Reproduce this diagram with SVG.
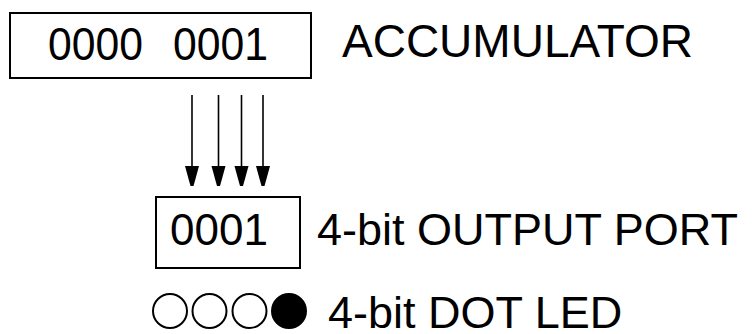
<svg xmlns="http://www.w3.org/2000/svg" width="752" height="334" viewBox="0 0 752 334">
  <style>
    .box { fill: #fff; stroke: #000; stroke-width: 2; }
    .txt { font-family: "Liberation Sans", Arial, sans-serif; fill: #000; }
    .wire { stroke: #000; stroke-width: 1.6; fill: none; marker-end: url(#head); }
    .led-off { fill: #fff; stroke: #000; stroke-width: 2; }
    .led-on { fill: #000; stroke: #000; stroke-width: 2; }
  </style>
  <defs>
    <!-- blunt, tapered arrowhead; drawn pointing along +x so orient="auto" turns it down the wire -->
    <marker id="head" markerUnits="userSpaceOnUse" markerWidth="21" markerHeight="16" refX="20" refY="8" orient="auto" viewBox="0 0 21 16">
      <path d="M0 1 L0 15 L11 12 L20 9.5 L20 6.5 L11 4 Z" fill="#000"/>
    </marker>
  </defs>
  <rect width="752" height="334" fill="#fff"/>

  <g id="accumulator">
    <rect class="box" x="10" y="13" width="301" height="65"/>
    <!-- high and low nibbles, set apart by a wide gap -->
    <text class="txt" x="48" y="60" font-size="46" textLength="95" lengthAdjust="spacingAndGlyphs">0000</text>
    <text class="txt" x="173" y="60" font-size="46" textLength="95" lengthAdjust="spacingAndGlyphs">0001</text>
    <text class="txt" x="342" y="57" font-size="46">ACCUMULATOR</text>
  </g>

  <g id="connectors">
    <line class="wire" x1="192" y1="95" x2="192" y2="186"/>
    <line class="wire" x1="218.5" y1="95" x2="218.5" y2="186"/>
    <line class="wire" x1="241.5" y1="95" x2="241.5" y2="186"/>
    <line class="wire" x1="263" y1="95" x2="263" y2="186"/>
  </g>

  <g id="output-port">
    <rect class="box" x="156" y="197" width="144" height="71"/>
    <text class="txt" x="170" y="245" font-size="44">0001</text>
    <text class="txt" x="317" y="245" font-size="45">4-bit OUTPUT PORT</text>
  </g>

  <g id="dot-led">
    <circle class="led-off" cx="170" cy="311" r="17"/>
    <circle class="led-off" cx="209.5" cy="311" r="17"/>
    <circle class="led-off" cx="249.5" cy="311" r="17"/>
    <circle class="led-on" cx="289" cy="311" r="17"/>
    <text class="txt" x="328" y="328" font-size="45">4-bit DOT LED</text>
  </g>
</svg>
